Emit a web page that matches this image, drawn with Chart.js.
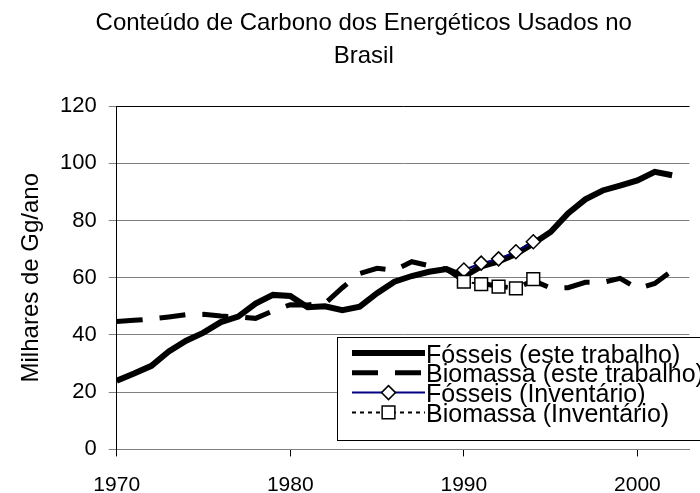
<!DOCTYPE html>
<html>
<head>
<meta charset="utf-8">
<script src="https://cdn.jsdelivr.net/npm/chart.js@4.4.1/dist/chart.umd.min.js"></script>
<style>
  html, body { margin: 0; padding: 0; background: #fff; }
  #wrap { width: 700px; height: 493px; }
</style>
</head>
<body>
<div id="wrap"><canvas id="carbono" width="700" height="493"></canvas></div>
<script>
// anos e series (milhares de Gg/ano)
var anos = [1970, 1971, 1972, 1973, 1974, 1975, 1976, 1977, 1978, 1979,
            1980, 1981, 1982, 1983, 1984, 1985, 1986, 1987, 1988, 1989,
            1990, 1991, 1992, 1993, 1994, 1995, 1996, 1997, 1998, 1999,
            2000, 2001, 2002];
var fosseisEste = [24.0, 26.5, 29.2, 34.2, 38.0, 40.8, 44.5, 46.4, 51.0, 54.0,
                   53.6, 49.7, 50.0, 48.7, 49.9, 54.6, 58.6, 60.6, 62.1, 63.0,
                   60.5, 64.0, 65.7, 68.3, 72.0, 76.0, 82.5, 87.4, 90.5, 92.2,
                   94.0, 97.0, 95.8];
var biomassaEste = [44.7, 45.1, 45.6, 46.3, 47.1, 47.2, 46.6, 46.3, 45.8, 48.4,
                    50.6, 50.5, 51.0, 56.5, 61.5, 63.3, 62.6, 65.6, 64.2, 63.0,
                    59.0, 58.0, 57.0, 56.3, 59.0, 56.4, 56.5, 58.4, 58.4, 59.8,
                    56.2, 58.0, 62.5];
var anosInventario = [1990, 1991, 1992, 1993, 1994];
var fosseisInventario = [62.7, 65.1, 66.6, 69.1, 72.6];
var biomassaInventario = [58.6, 57.8, 56.9, 56.3, 59.5];
var xTicks = [1970, 1980, 1990, 2000];
var yTicks = [0, 20, 40, 60, 80, 100, 120];

var fonte = "'Liberation Sans', Arial, sans-serif";

function pares(xs, ys) {
    return xs.map(function(x, i) { return { x: x, y: ys[i] }; });
}

// legenda desenhada dentro da area do grafico, como no Excel
var legendaExcel = {
    id: "legendaExcel",
    afterDraw: function(chart) {
        var ctx = chart.ctx;
        var left = 337, top = 337, w = 400, h = 103;
        ctx.save();
        ctx.fillStyle = "#fff";
        ctx.fillRect(left, top, w, h);
        ctx.strokeStyle = "#000";
        ctx.lineWidth = 1;
        ctx.strokeRect(left + 0.5, top + 0.5, w, h);
        ctx.font = "25px " + fonte;
        ctx.textBaseline = "alphabetic";
        chart.data.datasets.forEach(function(ds, i) {
            var y = 353 + i * 19.8;
            var x0 = 352, x1 = 425;
            ctx.save();
            ctx.strokeStyle = ds.borderColor;
            ctx.lineWidth = ds.borderWidth;
            ctx.setLineDash(ds.borderDash || []);
            ctx.beginPath();
            ctx.moveTo(x0, y);
            ctx.lineTo(x1, y);
            ctx.stroke();
            ctx.restore();
            if (ds.pointRadius > 0) {
                ctx.save();
                ctx.fillStyle = ds.pointBackgroundColor;
                ctx.strokeStyle = ds.pointBorderColor;
                ctx.lineWidth = ds.pointBorderWidth;
                Chart.helpers.drawPoint(ctx, {
                    pointStyle: ds.pointStyle,
                    radius: ds.pointRadius,
                    borderWidth: ds.pointBorderWidth
                }, (x0 + x1) / 2, y);
                ctx.restore();
            }
            ctx.fillStyle = "#000";
            ctx.fillText(ds.label, 426, y + 9.5);
        });
        ctx.restore();
    }
};

var ctx = document.getElementById("carbono").getContext("2d");
var grafico = new Chart(ctx, {
    type: "line",
    data: {
        datasets: [{
            label: "Fósseis (este trabalho)",
            data: pares(anos, fosseisEste),
            borderColor: "#000",
            borderWidth: 6,
            pointRadius: 0,
            tension: 0,
            order: 4
        }, {
            label: "Biomassa (este trabalho)",
            data: pares(anos, biomassaEste),
            borderColor: "#000",
            borderWidth: 5,
            borderDash: [26, 17],
            pointRadius: 0,
            tension: 0,
            order: 3
        }, {
            label: "Fósseis (Inventário)",
            data: pares(anosInventario, fosseisInventario),
            borderColor: "#000080",
            borderWidth: 2,
            pointStyle: "rectRot",
            pointRadius: 7,
            pointBackgroundColor: "#fff",
            pointBorderColor: "#000",
            pointBorderWidth: 1.5,
            tension: 0,
            order: 2
        }, {
            label: "Biomassa (Inventário)",
            data: pares(anosInventario, biomassaInventario),
            borderColor: "#000",
            borderWidth: 2,
            borderDash: [4, 4],
            pointStyle: "rect",
            pointRadius: 9,
            pointBackgroundColor: "#fff",
            pointBorderColor: "#000",
            pointBorderWidth: 1.5,
            tension: 0,
            order: 1
        }]
    },
    options: {
        responsive: false,
        animation: false,
        // padding a esquerda desloca o titulo para o centro do grafico original
        layout: { padding: { left: 30, right: 2.5, top: 0, bottom: 0 } },
        plugins: {
            legend: { display: false },
            tooltip: { enabled: false },
            title: {
                display: true,
                text: ["Conteúdo de Carbono dos Energéticos Usados no", "Brasil"],
                color: "#000",
                font: { family: fonte, size: 24, weight: "normal", lineHeight: 1.36 },
                padding: { top: 7, bottom: 33.8 }
            }
        },
        scales: {
            x: {
                type: "linear",
                min: 1970,
                max: 2003,
                afterBuildTicks: function(scale) {
                    scale.ticks = xTicks.map(function(v) { return { value: v }; });
                },
                afterFit: function(scale) { scale.height = 43.6; },
                grid: {
                    drawOnChartArea: false,
                    drawTicks: true,
                    tickLength: 7,
                    color: "#000"
                },
                border: { color: "#808080", width: 1 },
                ticks: {
                    color: "#000",
                    padding: 16,
                    maxRotation: 0,
                    font: { family: fonte, size: 21 },
                    callback: function(v) { return String(v); }
                }
            },
            y: {
                min: 0,
                max: 120,
                afterBuildTicks: function(scale) {
                    scale.ticks = yTicks.map(function(v) { return { value: v }; });
                },
                afterFit: function(scale) { scale.width = 86.7; },
                grid: {
                    color: function(c) { return c.tick && c.tick.value === 120 ? "#000" : "#808080"; },
                    tickColor: "#808080",
                    tickLength: 8,
                    lineWidth: 1
                },
                border: { color: "#000", width: 1 },
                ticks: {
                    color: "#000",
                    padding: 12,
                    font: { family: fonte, size: 22 },
                    callback: function(v) { return String(v); }
                },
                title: {
                    display: true,
                    text: "Milhares de Gg/ano",
                    color: "#000",
                    padding: { top: -12.9, bottom: 0 },
                    font: { family: fonte, size: 24 }
                }
            }
        }
    },
    plugins: [legendaExcel]
});
</script>
</body>
</html>
